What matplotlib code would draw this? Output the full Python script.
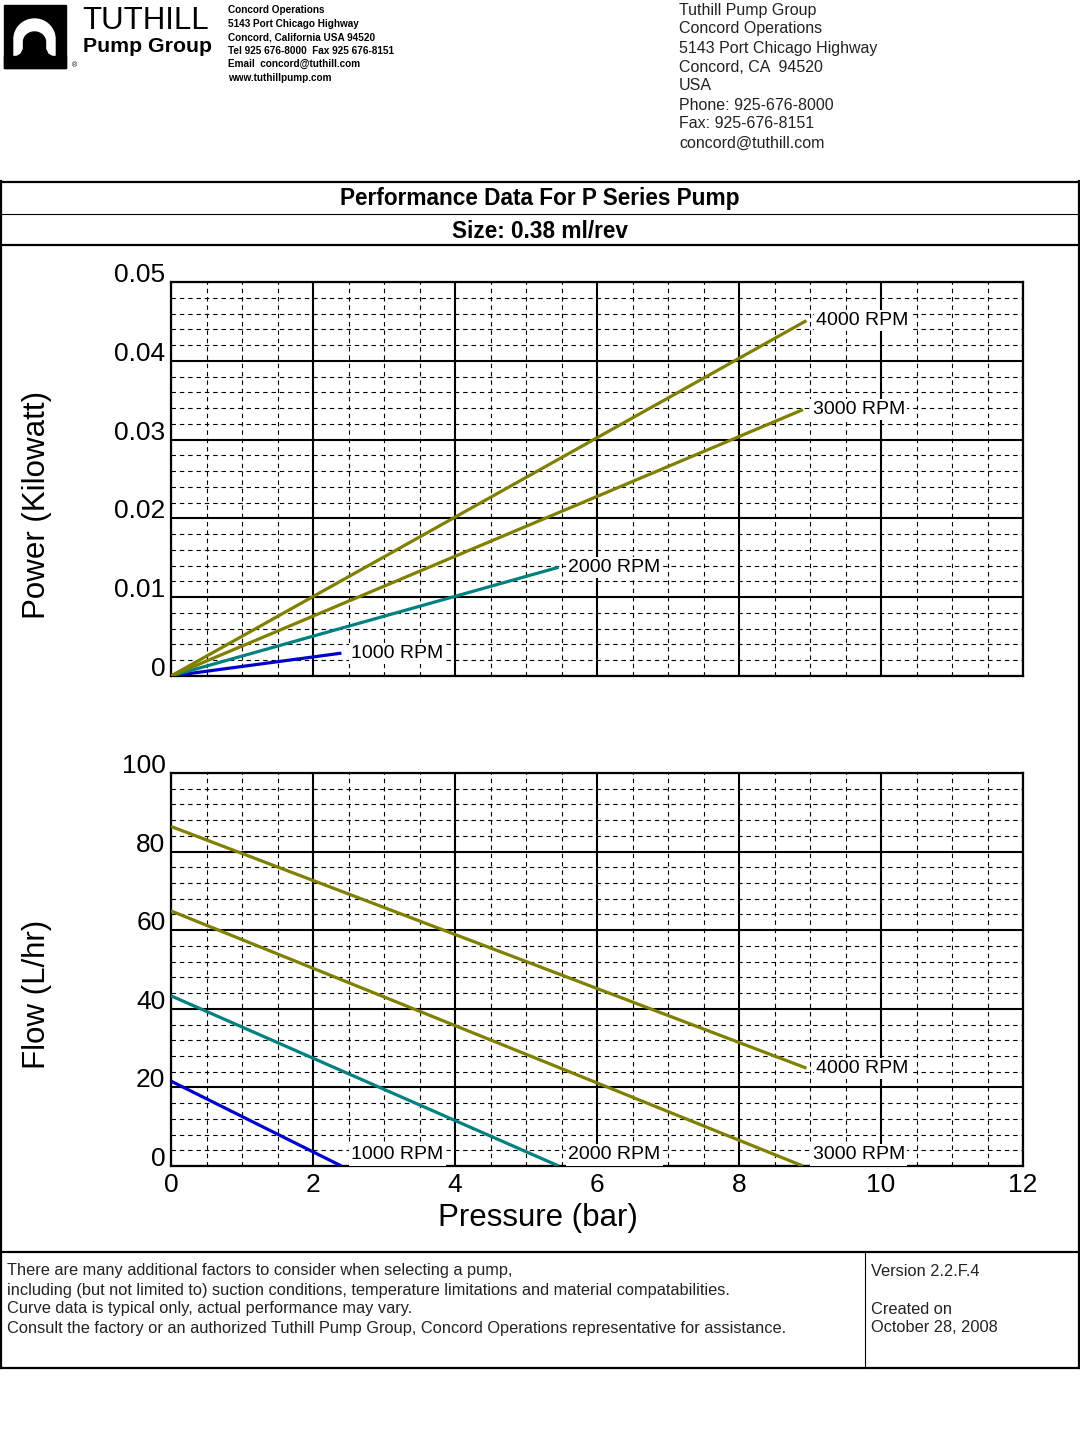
import matplotlib
matplotlib.use('Agg')
import matplotlib.pyplot as plt
from matplotlib.ticker import MultipleLocator
from matplotlib.patches import Rectangle, Polygon
import numpy as np

plt.rcParams['font.family'] = ['Liberation Sans', 'DejaVu Sans']

# ---------------- data ----------------
rpm_labels = ['1000 RPM', '2000 RPM', '3000 RPM', '4000 RPM']
series_colors = ['#0000CC', '#008080', '#808000', '#808000']
pressure_start = [0.0, 0.0, 0.0, 0.0]
pressure_end = [2.4, 5.46, 8.9, 8.95]
power_start = [0.0, 0.0, 0.0, 0.0]
power_end = [0.0029, 0.0138, 0.0338, 0.0451]
flow_start = [21.6, 43.3, 64.9, 86.4]
flow_end = [0.0, 0.0, 0.0, 24.9]

x_ticks = [0, 2, 4, 6, 8, 10, 12]
power_ticks = [0, 0.01, 0.02, 0.03, 0.04, 0.05]
power_tick_labels = ['0', '0.01', '0.02', '0.03', '0.04', '0.05']
flow_ticks = [0, 20, 40, 60, 80, 100]
flow_tick_labels = ['0', '20', '40', '60', '80', '100']

header_lines = ['Tuthill Pump Group', 'Concord Operations', '5143 Port Chicago Highway',
                'Concord, CA  94520', 'USA', 'Phone: 925-676-8000', 'Fax: 925-676-8151',
                'concord@tuthill.com']
logo_lines = ['Concord Operations', '5143 Port Chicago Highway', 'Concord, California USA 94520',
              'Tel 925 676-8000  Fax 925 676-8151', 'Email  concord@tuthill.com', 'www.tuthillpump.com']
footer_lines = ['There are many additional factors to consider when selecting a pump,',
                'including (but not limited to) suction conditions, temperature limitations and material compatabilities.',
                'Curve data is typical only, actual performance may vary.',
                'Consult the factory or an authorized Tuthill Pump Group, Concord Operations representative for assistance.']
version_lines = ['Version 2.2.F.4', '', 'Created on', 'October 28, 2008']

# ---------------- figure ----------------
W, H = 1080, 1440
fig = plt.figure(figsize=(W / 100, H / 100), dpi=100)
fig.patch.set_facecolor('white')


def rect(l, t, r, b):
    return [l / W, 1 - b / H, (r - l) / W, (b - t) / H]


ov = fig.add_axes([0, 0, 1, 1])
ov.set_xlim(0, W)
ov.set_ylim(H, 0)
ov.axis('off')

# frame lines
thick, thin = 1.6, 0.8
ov.plot([0.8, 0.8], [181, 1368], color='black', lw=thick)
ov.plot([1079, 1079], [181, 1368], color='black', lw=thick)
ov.plot([0, 1080], [182, 182], color='black', lw=thick)
ov.plot([0, 1080], [214, 214], color='black', lw=thin)
ov.plot([0, 1080], [245, 245], color='black', lw=thick)
ov.plot([0, 1080], [1252, 1252], color='black', lw=thick)
ov.plot([0, 1080], [1368, 1368], color='black', lw=thick)
ov.plot([864.5, 864.5], [1252, 1368], color='black', lw=thin)

ov.text(540, 199, 'Performance Data For P Series Pump', ha='center', va='center',
        fontsize=16.3, fontweight='bold')
ov.text(540, 232, 'Size: 0.38 ml/rev', ha='center', va='center', fontsize=16.3, fontweight='bold')

# logo
ov.add_patch(Rectangle((4, 5), 62, 63, color='black', zorder=2))
t = np.linspace(0, np.pi, 60)
outer = [(34.5 + 20.5 * np.cos(a), 39 - 20 * np.sin(a)) for a in t]
outer = [(55, 56)] + outer + [(14, 56)]
ov.add_patch(Polygon(outer, closed=True, color='white', zorder=3))
arc = [(34.5 + 11 * np.cos(a), 42 - 10 * np.sin(a)) for a in t]
inner = [(52, 56.5), (48, 54), (45.5, 49)] + arc + [(23.5, 49), (21, 54), (17, 56.5)]
ov.add_patch(Polygon(inner, closed=True, color='black', zorder=4))
ov.add_patch(Rectangle((4, 56), 62, 12, color='black', zorder=5))
ov.text(75, 66, '®', ha='center', va='center', fontsize=5)
ov.text(82, 29, 'TUTHILL', ha='left', va='baseline', fontsize=22.5)
ov.text(83, 52, 'Pump Group', ha='left', va='baseline', fontsize=15.3, fontweight='bold')
for i, s in enumerate(logo_lines):
    ov.text(228, 10 + i * 13.6, s, ha='left', va='center', fontsize=7.2, fontweight='bold')

for i, s in enumerate(header_lines):
    ov.text(679, 10 + i * 19, s, ha='left', va='center', fontsize=11.5, color='#222222')

for i, s in enumerate(footer_lines):
    ov.text(7, 1271 + i * 19, s, ha='left', va='center', fontsize=11.8, color='#222222')
for i, s in enumerate(version_lines):
    ov.text(871, 1271 + i * 19, s, ha='left', va='center', fontsize=11.8, color='#222222')

# axis titles
ov.text(37, 505, 'Power (Kilowatt)', rotation=90, ha='center', va='center', fontsize=22.5)
ov.text(37, 994, 'Flow (L/hr)', rotation=90, ha='center', va='center', fontsize=22.5)
ov.text(538, 1218, 'Pressure (bar)', ha='center', va='center', fontsize=22.5)

# ---------------- charts ----------------
ax1 = fig.add_axes(rect(171, 282, 1023, 676))
ax2 = fig.add_axes(rect(171, 773, 1023, 1166))


def style(ax, ymax, yminor, yt, ytl, show_x):
    ax.set_xlim(0, 12)
    ax.set_ylim(0, ymax)
    ax.set_xticks(x_ticks)
    ax.xaxis.set_minor_locator(MultipleLocator(0.5))
    ax.set_yticks(yt)
    ax.set_yticklabels(ytl)
    ax.yaxis.set_minor_locator(MultipleLocator(yminor))
    ax.grid(which='major', color='black', lw=1.5, ls='-')
    ax.grid(which='minor', color='black', lw=0.8, ls=(0, (4, 3.5)))
    ax.set_axisbelow(True)
    ax.tick_params(which='both', length=0, labelsize=19, pad=4)
    for sp in ax.spines.values():
        sp.set_linewidth(1.6)
        sp.set_color('black')
    for lab in ax.get_yticklabels():
        lab.set_va('baseline')
    if not show_x:
        ax.set_xticklabels([])
    else:
        ax.tick_params(axis='x', pad=5)


style(ax1, 0.05, 0.002, power_ticks, power_tick_labels, False)
style(ax2, 100, 4, flow_ticks, flow_tick_labels, True)

for i in range(4):
    c = series_colors[i]
    ax1.plot([pressure_start[i], pressure_end[i]], [power_start[i], power_end[i]],
             color=c, lw=2.3, solid_capstyle='butt', zorder=3)
    ax1.annotate(rpm_labels[i], xy=(pressure_end[i], power_end[i]), xytext=(7, 0),
                 textcoords='offset points', ha='left', va='center', fontsize=14,
                 bbox=dict(fc='white', ec='none', pad=1.5), zorder=4)
    ax2.plot([pressure_start[i], pressure_end[i]], [flow_start[i], flow_end[i]],
             color=c, lw=2.3, solid_capstyle='butt', zorder=3)
    dy = 8 if flow_end[i] == 0 else 0
    ax2.annotate(rpm_labels[i], xy=(pressure_end[i], flow_end[i]), xytext=(7, dy),
                 textcoords='offset points', ha='left', va='center', fontsize=14,
                 bbox=dict(fc='white', ec='none', pad=1.5), zorder=4, annotation_clip=False)

fig.savefig('out.png', dpi=100, facecolor='white')
